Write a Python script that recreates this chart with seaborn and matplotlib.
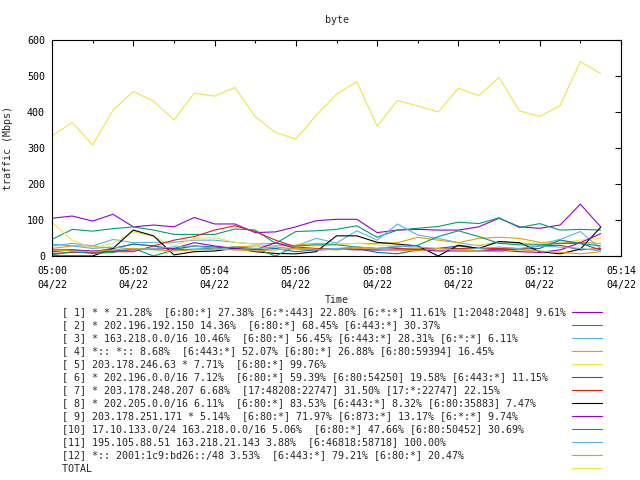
import pandas as pd
import matplotlib
matplotlib.use('Agg')
import matplotlib.pyplot as plt
import matplotlib.dates as mdates
import seaborn as sns

# 30 second samples, 05:00 .. 05:13:30
times = pd.date_range('2013-04-22 05:00:00', periods=28, freq='30s')

s1 = [105, 111, 97, 116, 81, 86, 81, 107, 89, 89, 65, 67, 81, 98, 102, 102, 65, 72, 74, 72, 72, 81, 105, 81, 77, 86, 144, 81]
s2 = [46, 74, 69, 76, 81, 72, 60, 60, 60, 75, 72, 35, 68, 70, 74, 84, 52, 72, 77, 82, 94, 90, 106, 79, 90, 72, 74, 72]
s3 = [28, 35, 28, 46, 37, 38, 38, 44, 44, 38, 33, 35, 28, 49, 36, 70, 44, 89, 58, 49, 37, 28, 40, 35, 33, 46, 68, 20]
s4 = [21, 28, 28, 21, 33, 28, 17, 28, 21, 25, 28, 28, 30, 35, 33, 35, 35, 37, 52, 44, 37, 49, 52, 49, 38, 37, 38, 35]
s5 = [93, 44, 21, 35, 68, 54, 28, 49, 51, 38, 33, 21, 28, 28, 33, 35, 31, 28, 21, 17, 28, 31, 35, 37, 35, 37, 44, 49]
s6 = [12, 17, 12, 21, 33, 28, 19, 28, 25, 21, 17, 21, 12, 17, 19, 21, 10, 6, 17, 21, 28, 21, 17, 19, 21, 44, 35, 17]
s7 = [7, 10, 10, 12, 12, 28, 44, 54, 72, 84, 68, 44, 25, 21, 19, 19, 17, 21, 19, 21, 21, 21, 21, 19, 28, 30, 17, 21]
s8 = [0, 0, 0, 21, 72, 56, 3, 12, 14, 21, 12, 7, 6, 12, 56, 56, 38, 33, 28, 0, 30, 21, 40, 37, 12, 6, 19, 80]
s9 = [17, 17, 14, 14, 17, 19, 21, 37, 28, 21, 17, 37, 21, 17, 19, 17, 17, 17, 17, 14, 14, 14, 17, 12, 10, 17, 37, 62]
s10 = [3, 12, 7, 10, 21, 0, 17, 19, 21, 25, 21, 0, 28, 31, 31, 25, 21, 25, 30, 54, 70, 54, 35, 31, 31, 35, 35, 28]
s11 = [33, 28, 21, 25, 19, 21, 25, 28, 21, 17, 21, 25, 19, 17, 21, 25, 21, 28, 25, 21, 17, 21, 25, 21, 28, 25, 21, 14]
s12 = [17, 14, 12, 17, 21, 17, 14, 17, 19, 17, 14, 17, 21, 19, 17, 21, 19, 17, 14, 21, 17, 14, 12, 17, 14, 10, 6, 12]
total = [334, 371, 308, 405, 457, 430, 378, 452, 444, 468, 387, 343, 325, 391, 449, 484, 361, 432, 417, 400,
         466, 446, 496, 403, 388, 418, 540, 507]

labels = [
    '[ 1] * * 21.28%  [6:80:*] 27.38% [6:*:443] 22.80% [6:*:*] 11.61% [1:2048:2048] 9.61%',
    '[ 2] * 202.196.192.150 14.36%  [6:80:*] 68.45% [6:443:*] 30.37%',
    '[ 3] * 163.218.0.0/16 10.46%  [6:80:*] 56.45% [6:443:*] 28.31% [6:*:*] 6.11%',
    '[ 4] *:: *:: 8.68%  [6:443:*] 52.07% [6:80:*] 26.88% [6:80:59394] 16.45%',
    '[ 5] 203.178.246.63 * 7.71%  [6:80:*] 99.76%',
    '[ 6] * 202.196.0.0/16 7.12%  [6:80:*] 59.39% [6:80:54250] 19.58% [6:443:*] 11.15%',
    '[ 7] * 203.178.248.207 6.68%  [17:48208:22747] 31.50% [17:*:22747] 22.15%',
    '[ 8] * 202.205.0.0/16 6.11%  [6:80:*] 83.53% [6:443:*] 8.32% [6:80:35883] 7.47%',
    '[ 9] 203.178.251.171 * 5.14%  [6:80:*] 71.97% [6:873:*] 13.17% [6:*:*] 9.74%',
    '[10] 17.10.133.0/24 163.218.0.0/16 5.06%  [6:80:*] 47.66% [6:80:50452] 30.69%',
    '[11] 195.105.88.51 163.218.21.143 3.88%  [6:46818:58718] 100.00%',
    '[12] *:: 2001:1c9:bd26::/48 3.53%  [6:443:*] 79.21% [6:80:*] 20.47%',
    'TOTAL',
]

# gnuplot default line colours, cycling every 8
colors = ['#9400d3', '#009e73', '#56b4e9', '#e69f00', '#f0e442', '#0072b2', '#e51e10', '#000000'] * 2

sns.set_style('white')
plt.rcParams['font.family'] = ['DejaVu Sans Mono']
plt.rcParams['font.size'] = 7.2

fig = plt.figure(figsize=(6.4, 4.8), dpi=100)
ax = fig.add_axes([52 / 640, 1 - 256 / 480, (621 - 52) / 640, (256 - 40) / 480])

series = [s1, s2, s3, s4, s5, s6, s7, s8, s9, s10, s11, s12, total]
for vals, lab, col in zip(series, labels, colors):
    sns.lineplot(x=times, y=vals, color=col, linewidth=0.8, label=lab, ax=ax)

handles, labs = ax.get_legend_handles_labels()
ax.get_legend().remove()
# pad labels so the line samples line up on the right like gnuplot's key
width = max(len(l) for l in labs)
labs = [l.ljust(width) for l in labs]
fig.legend(handles, labs, loc='upper left', bbox_to_anchor=(62 / 640, 1 - 307 / 480),
           frameon=False, markerfirst=False, borderpad=0, borderaxespad=0,
           handlelength=3.0, handletextpad=0.6, labelspacing=0.305, fontsize=7.2)

ax.set_xlim(pd.Timestamp('2013-04-22 05:00'), pd.Timestamp('2013-04-22 05:14'))
ax.set_ylim(0, 600)
ax.set_yticks(range(0, 601, 100))
ax.xaxis.set_major_locator(mdates.MinuteLocator(byminute=range(0, 60, 2)))
ax.xaxis.set_minor_locator(mdates.MinuteLocator())
ax.xaxis.set_major_formatter(mdates.DateFormatter('%H:%M\n%m/%d'))
for t in ax.get_xticklabels():
    t.set_linespacing(1.5)

ax.tick_params(which='both', direction='in', top=True, right=True, colors='black', width=0.8)
ax.tick_params(which='major', length=4.5)
ax.tick_params(axis='x', which='major', pad=7)
ax.tick_params(axis='y', which='major', pad=5)
ax.tick_params(which='minor', length=2.5)
for sp in ax.spines.values():
    sp.set_color('black')
    sp.set_linewidth(0.8)

ax.set_title('byte', pad=12, fontsize=7.2)
ax.set_xlabel('Time', labelpad=4)
ax.set_ylabel('traffic (Mbps)', labelpad=10)

fig.savefig('out.png', dpi=100, facecolor='white')
